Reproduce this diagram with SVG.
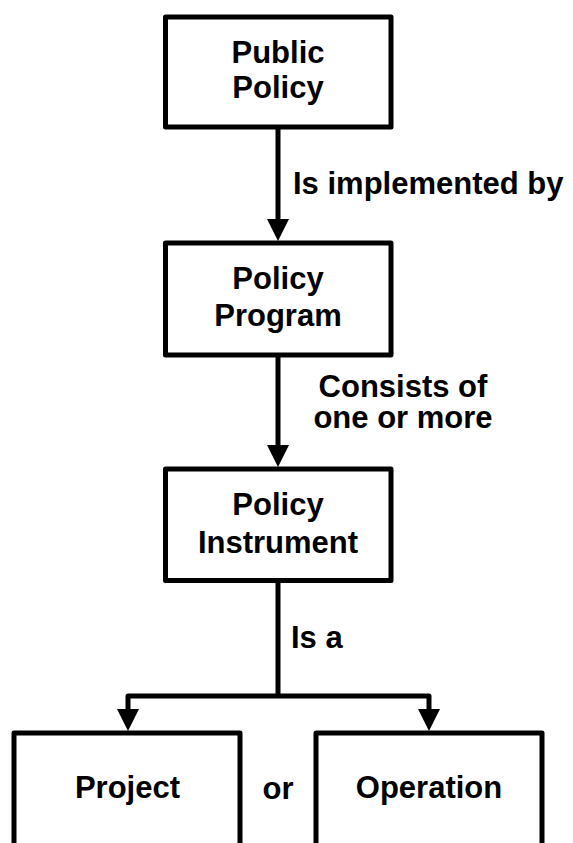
<svg xmlns="http://www.w3.org/2000/svg" width="573" height="843" viewBox="0 0 573 843">
<style>
.box{fill:#fff;stroke:#000;stroke-width:5;stroke-linejoin:round}
.t{font-family:"Liberation Sans",Arial,sans-serif;font-weight:bold;font-size:31px;fill:#000}
.m{text-anchor:middle}
.ln{fill:none;stroke:#000;stroke-width:5;stroke-linejoin:round}
</style>
<rect width="573" height="843" fill="#fff"/>
<g id="connectors">
<line class="ln" x1="278" y1="129" x2="278" y2="222"/>
<polygon points="267,219 289,219 278,241"/>
<line class="ln" x1="278" y1="357" x2="278" y2="448"/>
<polygon points="267,445 289,445 278,467"/>
<polyline class="ln" points="128,712 128,696 429,696 429,712"/>
<line class="ln" x1="278" y1="582" x2="278" y2="696"/>
<polygon points="117,709 139,709 128,731"/>
<polygon points="418,709 440,709 429,731"/>
<text class="t" x="293" y="194">Is implemented by</text>
<text class="t m" x="403" y="397">Consists of</text>
<text class="t m" x="403" y="428">one or more</text>
<text class="t" x="291" y="648">Is a</text>
<text class="t m" x="278" y="799">or</text>
</g>
<g id="public-policy">
<rect class="box" x="165.5" y="17" width="225.5" height="110"/>
<text class="t m" x="278" y="63">Public</text>
<text class="t m" x="278" y="98">Policy</text>
</g>
<g id="policy-program">
<rect class="box" x="165.5" y="243" width="225.5" height="112"/>
<text class="t m" x="278" y="289">Policy</text>
<text class="t m" x="278" y="326">Program</text>
</g>
<g id="policy-instrument">
<rect class="box" x="165.5" y="469" width="225.5" height="111.5"/>
<text class="t m" x="278" y="515">Policy</text>
<text class="t m" x="278" y="553">Instrument</text>
</g>
<g id="project">
<rect class="box" x="14" y="733" width="226" height="200"/>
<text class="t m" x="127.5" y="798">Project</text>
</g>
<g id="operation">
<rect class="box" x="316" y="733" width="226" height="200"/>
<text class="t m" x="429" y="798">Operation</text>
</g>
</svg>
